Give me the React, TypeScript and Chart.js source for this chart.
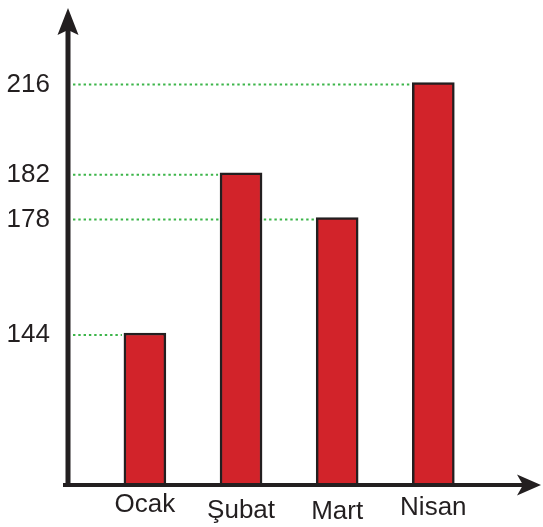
import React, { useEffect, useRef } from "react";
import { Chart, registerables, LinearScale } from "chart.js";

// ---- data ----
const CATEGORIES = ["Ocak", "Şubat", "Mart", "Nisan"];
const VALUES = [144, 182, 178, 216];
const Y_TICKS = [144, 178, 182, 216];

// ---- axis display mapping (the drawing is not to scale) ----
const Y_AXIS_BREAKS = [0, 144, 178, 182, 216, 240];
const Y_AXIS_FRACTIONS = [0, 0.3187, 0.5608, 0.6547, 0.8438, 1];

// ---- styles ----
const INK = "#231f20";
const BAR_RED = "#d2232a";
const DOT_GREEN = "#3cb54a";
const FONT_FAMILY = "'Liberation Sans', Arial, sans-serif";
// per-label vertical stagger (line heights) of the month labels
const X_LABEL_LINE_HEIGHTS = [31, 43, 45, 37];

function valueToDecimal(v: number): number {
  const b = Y_AXIS_BREAKS;
  const f = Y_AXIS_FRACTIONS;
  let i = 0;
  while (i < b.length - 2 && v > b[i + 1]) i++;
  return f[i] + ((v - b[i]) / (b[i + 1] - b[i])) * (f[i + 1] - f[i]);
}
function decimalToValue(d: number): number {
  const b = Y_AXIS_BREAKS;
  const f = Y_AXIS_FRACTIONS;
  let i = 0;
  while (i < f.length - 2 && d > f[i + 1]) i++;
  return b[i] + ((d - f[i]) / (f[i + 1] - f[i])) * (b[i + 1] - b[i]);
}

class PiecewiseScale extends LinearScale {
  static id = "piecewise";
  static defaults = LinearScale.defaults;
  getPixelForValue(value: number) {
    return (this as any).getPixelForDecimal(valueToDecimal(value));
  }
  getValueForPixel(pixel: number) {
    return decimalToValue((this as any).getDecimalForPixel(pixel));
  }
}

Chart.register(...registerables, PiecewiseScale as any);

const guidePlugin = {
  id: "guides",
  beforeDatasetsDraw(chart: any) {
    const { ctx, chartArea } = chart;
    const meta = chart.getDatasetMeta(0);
    ctx.save();
    ctx.strokeStyle = DOT_GREEN;
    ctx.lineWidth = 2;
    ctx.setLineDash([2.4, 2.9]);
    meta.data.forEach((bar: any) => {
      const { x, y, width } = bar.getProps(["x", "y", "width"], true);
      const yy = y + 2;
      ctx.beginPath();
      ctx.moveTo(chartArea.left + 5, yy);
      ctx.lineTo(x - width / 2 - 2, yy);
      ctx.stroke();
    });
    ctx.restore();
  },
};

const axesPlugin = {
  id: "arrowAxes",
  afterDatasetsDraw(chart: any) {
    const { ctx, chartArea } = chart;
    const { left, right, top, bottom } = chartArea;
    ctx.save();
    ctx.fillStyle = INK;
    ctx.strokeStyle = INK;
    ctx.lineCap = "butt";
    // x axis
    ctx.lineWidth = 4;
    ctx.beginPath();
    ctx.moveTo(left - 5, bottom);
    ctx.lineTo(right - 18, bottom);
    ctx.stroke();
    ctx.beginPath();
    ctx.moveTo(right, bottom);
    ctx.lineTo(right - 24, bottom - 10.5);
    ctx.lineTo(right - 18, bottom);
    ctx.lineTo(right - 24, bottom + 10.5);
    ctx.closePath();
    ctx.fill();
    // y axis
    ctx.lineWidth = 5;
    ctx.beginPath();
    ctx.moveTo(left, bottom + 2);
    ctx.lineTo(left, top + 22);
    ctx.stroke();
    ctx.beginPath();
    ctx.moveTo(left, top);
    ctx.lineTo(left + 10.5, top + 27);
    ctx.lineTo(left, top + 22);
    ctx.lineTo(left - 10.5, top + 27);
    ctx.closePath();
    ctx.fill();
    ctx.restore();
  },
};

export default function App() {
  const canvasRef = useRef<HTMLCanvasElement | null>(null);

  useEffect(() => {
    if (!canvasRef.current) return;
    const chart = new Chart(canvasRef.current, {
      type: "bar",
      data: {
        datasets: [
          {
            data: VALUES.map((v, i) => ({ x: i, y: v })) as any,
            backgroundColor: BAR_RED,
            borderColor: INK,
            borderWidth: 2.5,
            barThickness: 42,
          },
        ],
      },
      plugins: [guidePlugin, axesPlugin],
      options: {
        animation: false,
        responsive: true,
        maintainAspectRatio: false,
        layout: { padding: { left: 0, right: 2, top: 8, bottom: 0 } },
        plugins: { legend: { display: false }, tooltip: { enabled: false } },
        scales: {
          x: {
            type: "linear",
            offset: false,
            min: -0.8,
            max: 4.12,
            grid: { display: false, drawTicks: false, offset: false },
            border: { display: false },
            afterBuildTicks: (scale: any) => {
              scale.ticks = CATEGORIES.map((_, i) => ({ value: i }));
            },
            afterFit: (scale: any) => {
              scale.height = 42;
              scale.paddingLeft = 0;
              scale.paddingRight = 0;
            },
            ticks: {
              autoSkip: false,
              maxRotation: 0,
              padding: 4,
              color: INK,
              font: (c: any) => ({
                family: FONT_FAMILY,
                size: 26,
                lineHeight: X_LABEL_LINE_HEIGHTS[c.index] + "px",
              }),
              callback: (v: any) => CATEGORIES[v as number] ?? "",
            },
          },
          y: {
            type: "piecewise" as any,
            min: 0,
            max: 240,
            grid: { display: false, drawTicks: false },
            border: { display: false },
            afterBuildTicks: (scale: any) => {
              scale.ticks = Y_TICKS.map((v) => ({ value: v }));
            },
            afterFit: (scale: any) => {
              scale.width = 68;
              scale.paddingTop = 0;
              scale.paddingBottom = 0;
            },
            ticks: {
              autoSkip: false,
              padding: 18,
              labelOffset: 2,
              color: INK,
              font: { family: FONT_FAMILY, size: 26 },
              callback: (v: any) => String(v),
            },
          },
        },
      },
    });
    return () => chart.destroy();
  }, []);

  return (
    <div style={{ position: "absolute", left: 0, top: 0, width: 543, height: 527 }}>
      <canvas ref={canvasRef} />
    </div>
  );
}
